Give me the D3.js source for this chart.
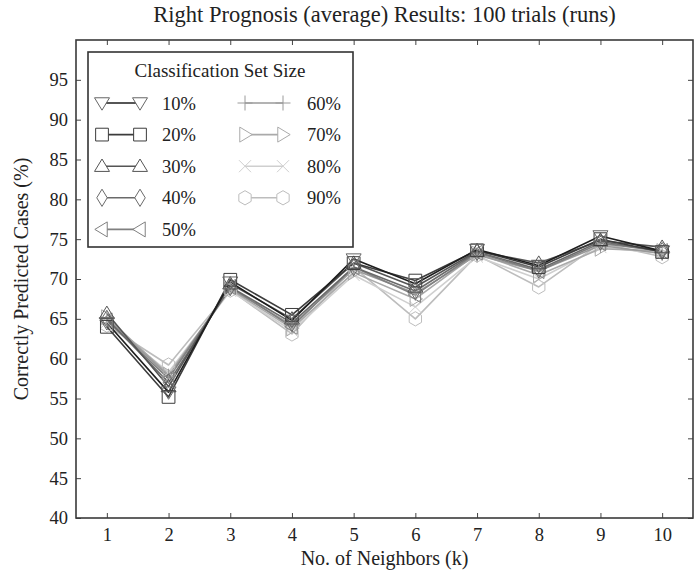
<!DOCTYPE html>
<html>
<head>
<meta charset="utf-8">
<script src="https://cdn.jsdelivr.net/npm/d3@7"></script>
<style>
  html, body { margin: 0; padding: 0; background: #fff; }
  svg { display: block; font-family: "Liberation Serif", "DejaVu Serif", serif; }
</style>
</head>
<body>
<svg id="chart" width="696" height="572"></svg>
<script>
// Neighbors k on the x axis
const neighbors = [1, 2, 3, 4, 5, 6, 7, 8, 9, 10];

// Classification set sizes (one series each)
const setSizes = ["10%", "20%", "30%", "40%", "50%", "60%", "70%", "80%", "90%"];

// Correctly predicted cases (%) for each set size, per k
const s10 = [64.5, 55.8, 69.6, 64.8, 72.5, 69.4, 73.7, 71.7, 75.4, 73.5];
const s20 = [64.0, 55.2, 69.9, 65.5, 72.0, 69.8, 73.6, 71.5, 75.0, 73.4];
const s30 = [65.7, 56.5, 69.4, 65.0, 72.0, 69.0, 73.5, 72.0, 74.8, 74.0];
const s40 = [65.0, 57.0, 69.0, 64.5, 71.5, 68.5, 73.4, 71.2, 74.7, 73.5];
const s50 = [64.8, 57.5, 69.0, 64.0, 71.5, 68.0, 73.3, 71.0, 74.5, 73.5];
const s60 = [65.0, 57.8, 68.8, 64.2, 71.2, 68.2, 73.0, 71.0, 74.2, 73.2];
const s70 = [65.2, 58.0, 68.7, 63.8, 70.8, 67.5, 73.2, 70.5, 73.8, 73.5];
const s80 = [64.6, 58.3, 68.5, 63.5, 70.5, 66.5, 72.8, 70.0, 74.0, 73.2];
const s90 = [64.2, 59.2, 68.6, 63.1, 71.5, 65.0, 73.0, 69.0, 74.5, 72.8];
const seriesValues = [s10, s20, s30, s40, s50, s60, s70, s80, s90];

// Y axis tick labels
const yTicks = [40, 45, 50, 55, 60, 65, 70, 75, 80, 85, 90, 95];

// Grey level and marker shape per series
const lineColors = ["#1e1e1e", "#3c3c3c", "#555555", "#6a6a6a", "#808080", "#9a9a9a", "#aaaaaa", "#cfcfcf", "#bdbdbd"];
const markerKinds = ["triDown", "square", "triUp", "diamond", "triLeft", "plus", "triRight", "cross", "hexagon"];

const svg = d3.select("#chart");
const margin = { left: 76, right: 693, top: 40, bottom: 518 };

const x = d3.scaleLinear().domain([0.5, 10.5]).range([margin.left, margin.right]);
const y = d3.scaleLinear().domain([40, 100]).range([margin.bottom, margin.top]);

// Marker path generator centred on (0,0)
function markerPath(kind, r) {
  const p = d3.path();
  const poly = pts => { p.moveTo(pts[0][0], pts[0][1]); pts.slice(1).forEach(q => p.lineTo(q[0], q[1])); p.closePath(); };
  const h = r * 0.87;
  switch (kind) {
    case "triDown": poly([[-r, -h * 0.8], [r, -h * 0.8], [0, h * 1.1]]); break;
    case "triUp": poly([[-r, h * 0.8], [r, h * 0.8], [0, -h * 1.1]]); break;
    case "triLeft": poly([[h * 0.8, -r], [h * 0.8, r], [-h * 1.1, 0]]); break;
    case "triRight": poly([[-h * 0.8, -r], [-h * 0.8, r], [h * 1.1, 0]]); break;
    case "square": { const s = r * 0.85; poly([[-s, -s], [s, -s], [s, s], [-s, s]]); break; }
    case "diamond": poly([[0, -r * 1.15], [r * 0.7, 0], [0, r * 1.15], [-r * 0.7, 0]]); break;
    case "plus": p.moveTo(-r, 0); p.lineTo(r, 0); p.moveTo(0, -r); p.lineTo(0, r); break;
    case "cross": { const c = r * 0.8; p.moveTo(-c, -c); p.lineTo(c, c); p.moveTo(-c, c); p.lineTo(c, -c); break; }
    case "hexagon": {
      const pts = d3.range(6).map(i => { const a = Math.PI / 6 + i * Math.PI / 3; return [r * 0.95 * Math.cos(a), r * 0.95 * Math.sin(a)]; });
      poly(pts); break;
    }
  }
  return p.toString();
}

// Title
svg.append("text")
  .attr("x", (margin.left + margin.right) / 2).attr("y", 22)
  .attr("text-anchor", "middle").attr("font-size", 22.5).attr("fill", "#222")
  .text("Right Prognosis (average) Results: 100 trials (runs)");

// Axes with inward ticks on all four sides
const tickColor = "#444";
const bottomAxis = d3.axisBottom(x).tickValues(neighbors).tickSizeInner(-5).tickSizeOuter(0).tickPadding(10);
const topAxis = d3.axisTop(x).tickValues(neighbors).tickSizeInner(-5).tickSizeOuter(0).tickFormat("");
const leftAxis = d3.axisLeft(y).tickValues(yTicks).tickSizeInner(-5).tickSizeOuter(0).tickPadding(8);
const rightAxis = d3.axisRight(y).tickValues(yTicks).tickSizeInner(-5).tickSizeOuter(0).tickFormat("");

function styleAxis(g) {
  g.select(".domain").remove();
  g.selectAll(".tick line").attr("stroke", tickColor).attr("stroke-width", 1);
  g.selectAll(".tick text").attr("font-family", "Liberation Serif, serif").attr("font-size", 18.5).attr("fill", "#222");
}
svg.append("g").attr("transform", `translate(0,${margin.bottom})`).call(bottomAxis).call(styleAxis);
svg.append("g").attr("transform", `translate(0,${margin.top})`).call(topAxis).call(styleAxis);
svg.append("g").attr("transform", `translate(${margin.left},0)`).call(leftAxis).call(styleAxis);
svg.append("g").attr("transform", `translate(${margin.right},0)`).call(rightAxis).call(styleAxis);

// Axis labels
svg.append("text")
  .attr("x", (margin.left + margin.right) / 2).attr("y", 565)
  .attr("text-anchor", "middle").attr("font-size", 20).attr("fill", "#222")
  .text("No. of Neighbors (k)");
svg.append("text")
  .attr("transform", `translate(28,${(margin.top + margin.bottom) / 2}) rotate(-90)`)
  .attr("text-anchor", "middle").attr("font-size", 20).attr("fill", "#222")
  .text("Correctly Predicted Cases (%)");

// Series: lines then hollow markers, lightest drawn first
const line = d3.line().x((d, i) => x(neighbors[i])).y(d => y(d));
const plot = svg.append("g");
const order = d3.range(setSizes.length).reverse();
order.forEach(si => {
  plot.append("path")
    .attr("d", line(seriesValues[si]))
    .attr("fill", "none").attr("stroke", lineColors[si]).attr("stroke-width", 1.6)
    .attr("stroke-linejoin", "round");
});
order.forEach(si => {
  plot.selectAll(null).data(seriesValues[si]).enter().append("path")
    .attr("transform", (d, i) => `translate(${x(neighbors[i])},${y(d)})`)
    .attr("d", markerPath(markerKinds[si], 7.5))
    .attr("fill", "none").attr("stroke", lineColors[si] === "#1e1e1e" ? "#666" : lineColors[si])
    .attr("stroke-width", 1);
});

// Plot frame
svg.append("rect")
  .attr("x", margin.left).attr("y", margin.top)
  .attr("width", margin.right - margin.left).attr("height", margin.bottom - margin.top)
  .attr("fill", "none").attr("stroke", "#3a3a3a").attr("stroke-width", 1.6);

// Legend
const legend = svg.append("g");
legend.append("rect")
  .attr("x", 88).attr("y", 52).attr("width", 265).attr("height", 195)
  .attr("fill", "#fff").attr("stroke", "#333").attr("stroke-width", 1.6);
legend.append("text")
  .attr("x", 220).attr("y", 77).attr("text-anchor", "middle")
  .attr("font-size", 19).attr("fill", "#222")
  .text("Classification Set Size");

setSizes.forEach((label, si) => {
  const col = si < 5 ? 0 : 1;
  const row = si < 5 ? si : si - 5;
  const x0 = col === 0 ? 102 : 245;
  const x1 = col === 0 ? 140 : 283;
  const cy = 103 + row * 31.6;
  const g = legend.append("g");
  g.append("line").attr("x1", x0).attr("x2", x1).attr("y1", cy).attr("y2", cy)
    .attr("stroke", lineColors[si]).attr("stroke-width", 1.6);
  [x0, x1].forEach(mx => {
    g.append("path").attr("transform", `translate(${mx},${cy})`)
      .attr("d", markerPath(markerKinds[si], 7.5))
      .attr("fill", "#fff").attr("stroke", lineColors[si] === "#1e1e1e" ? "#666" : lineColors[si])
      .attr("stroke-width", 1);
  });
  g.append("text").attr("x", col === 0 ? 162 : 307).attr("y", cy + 6.5)
    .attr("font-size", 18.5).attr("fill", "#222").text(label);
});
</script>
</body>
</html>
